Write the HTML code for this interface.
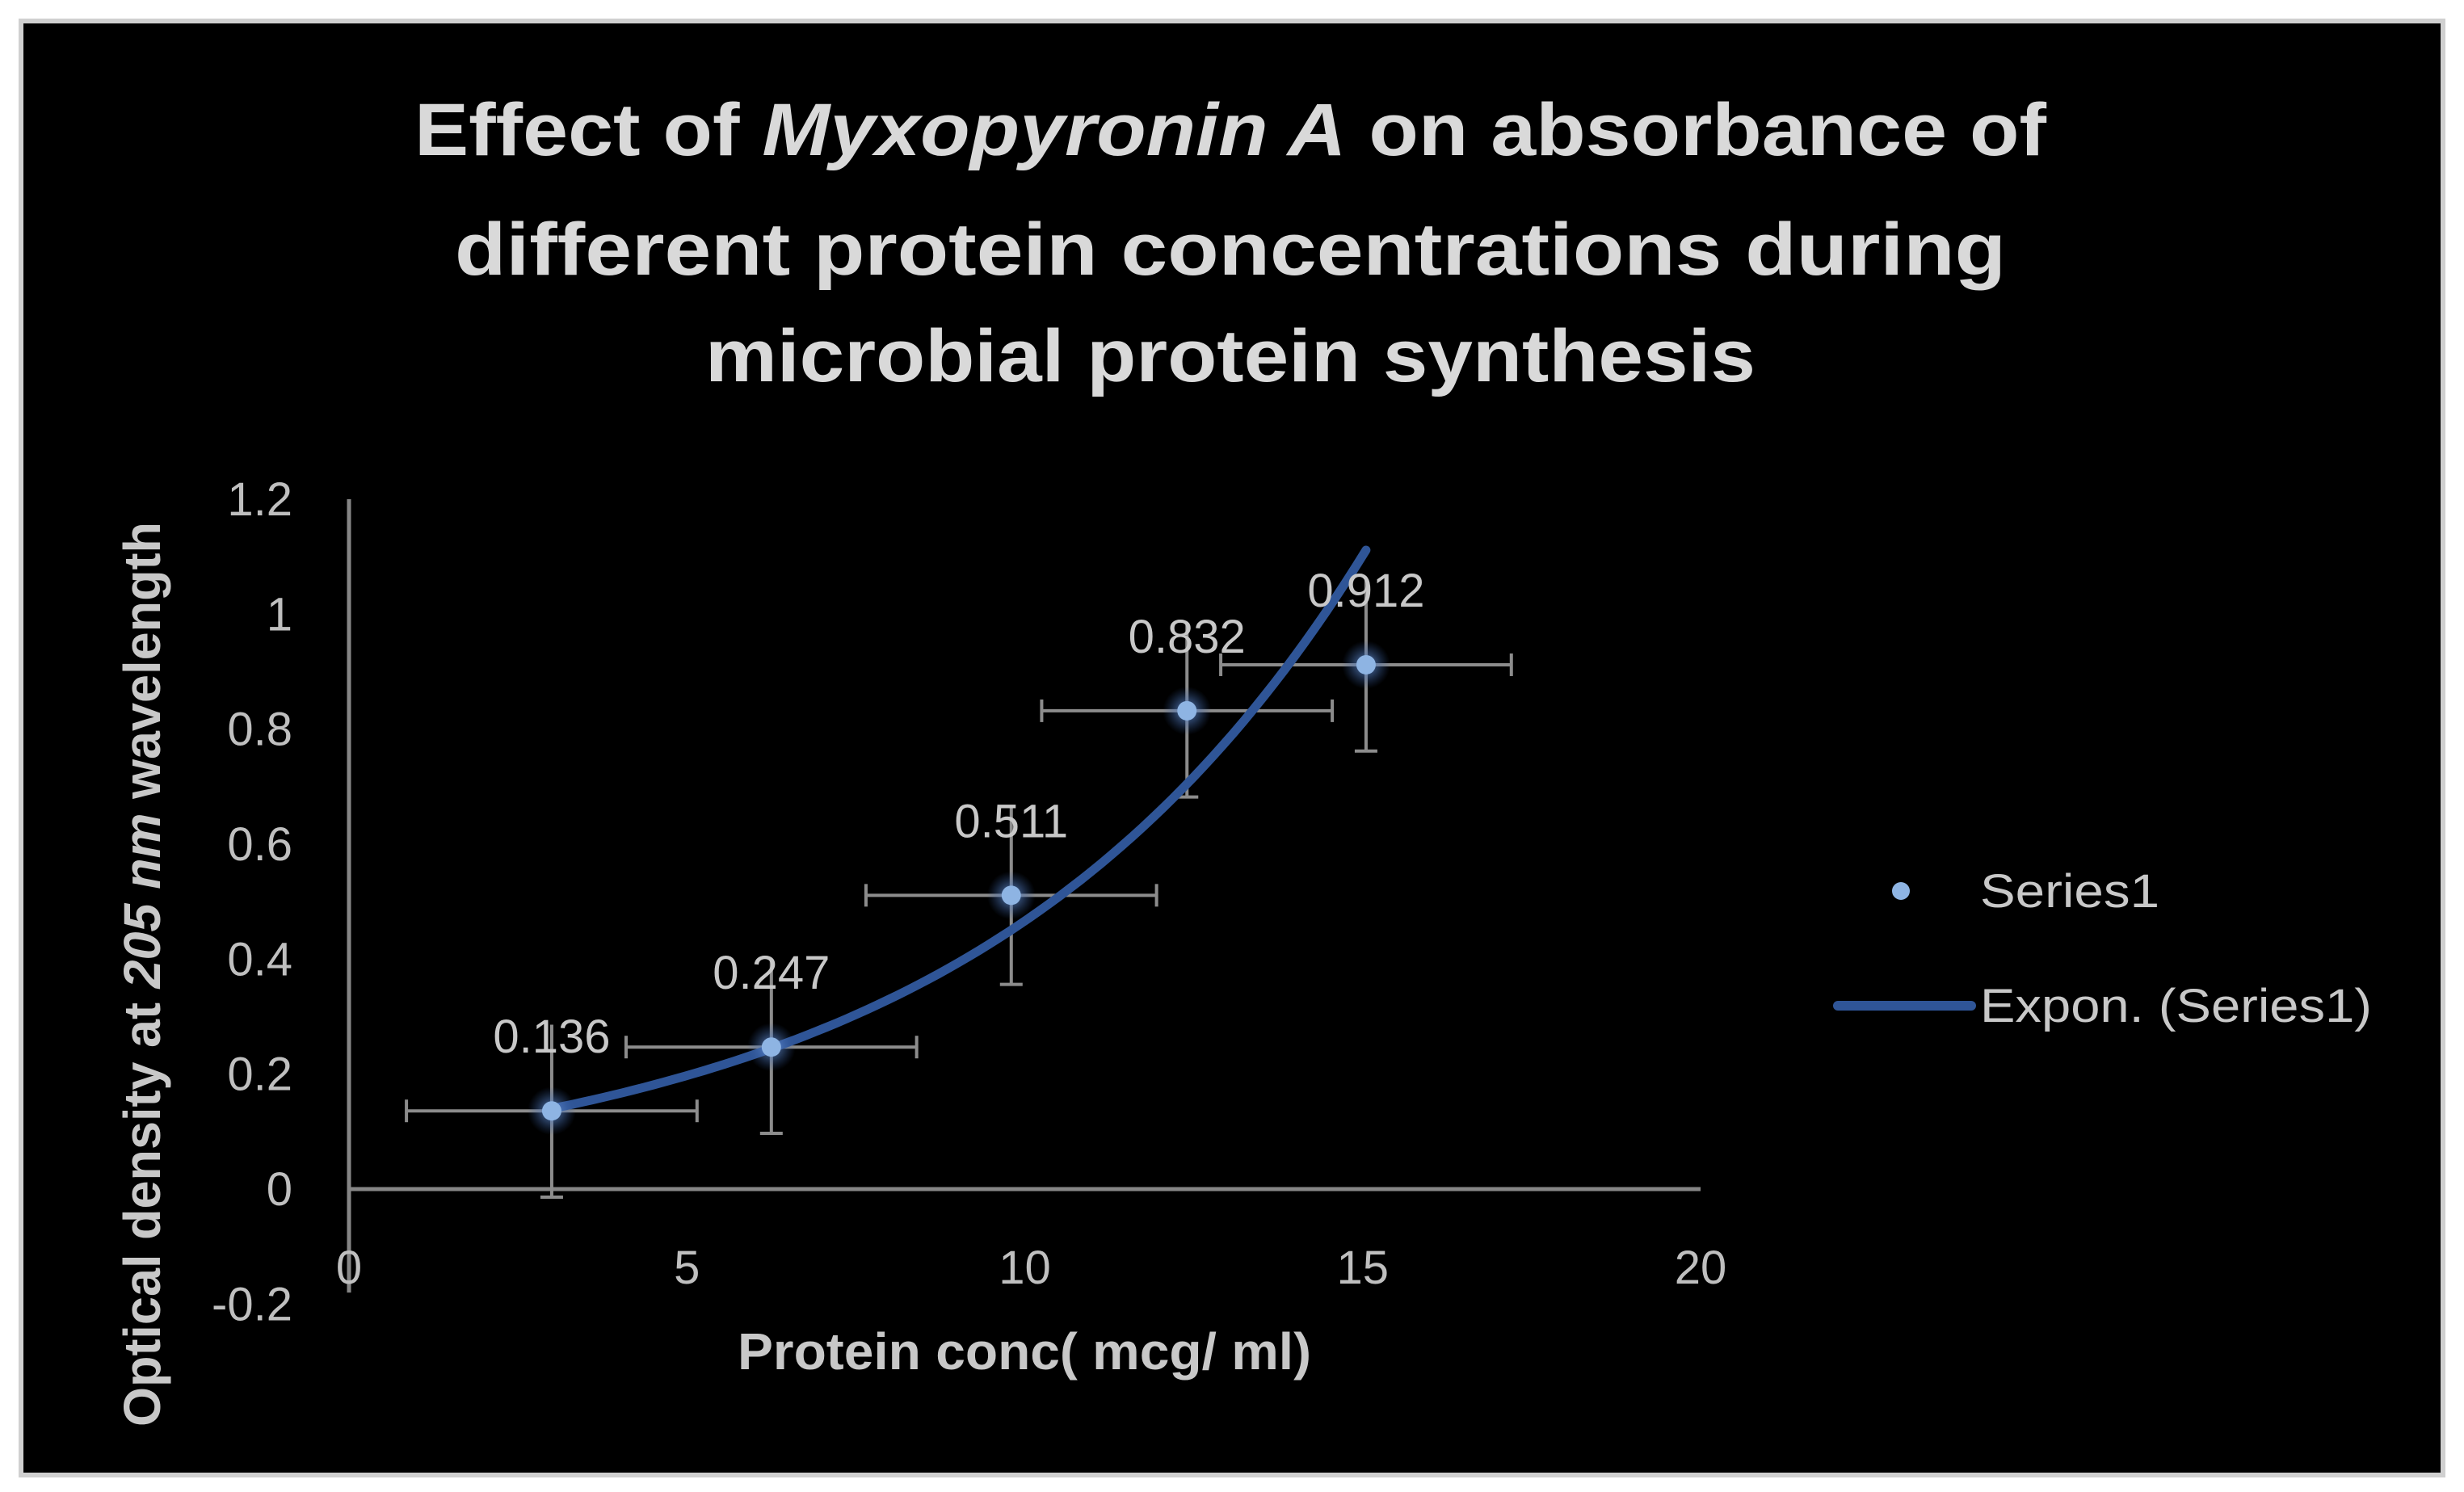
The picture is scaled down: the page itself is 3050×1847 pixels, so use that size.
<!DOCTYPE html>
<html><head><meta charset="utf-8"><style>
html,body{margin:0;padding:0;background:#fff;}
svg{display:block;}
text{font-family:"Liberation Sans",sans-serif;}
</style></head>
<body>
<svg id="chart" width="3050" height="1847" viewBox="0 0 3050 1847" xmlns="http://www.w3.org/2000/svg">
<defs>
<radialGradient id="glow"><stop offset="0" stop-color="#6f9be0" stop-opacity="0.9"/><stop offset="1" stop-color="#2f5597" stop-opacity="0"/></radialGradient>
</defs>
<rect x="0" y="0" width="3050" height="1847" fill="#ffffff"/>
<rect x="26" y="26" width="2998" height="1800" fill="#000" stroke="#d0d0d0" stroke-width="6"/>
<g fill="#d9d9d9" font-weight="bold" font-size="92" text-anchor="middle">
<text x="1523" y="192" textLength="2020" lengthAdjust="spacingAndGlyphs">Effect of <tspan font-style="italic">Myxopyronin A</tspan> on absorbance of</text>
<text x="1523" y="340" textLength="1920" lengthAdjust="spacingAndGlyphs">different  protein concentrations during</text>
<text x="1523" y="472" textLength="1300" lengthAdjust="spacingAndGlyphs">microbial protein synthesis</text>
</g>
<g id="axes"></g>
<g id="marks"></g>
<text x="1268" y="1695" fill="#c8c8c8" font-weight="bold" font-size="64" text-anchor="middle" textLength="710" lengthAdjust="spacingAndGlyphs">Protein conc( mcg/ ml)</text>
<text transform="translate(198,1206) rotate(-90)" fill="#c8c8c8" font-weight="bold" font-size="64" text-anchor="middle" textLength="1120" lengthAdjust="spacingAndGlyphs">Optical density at <tspan font-style="italic">205 nm</tspan> wavelength</text>
<g>
<circle cx="2353" cy="1103" r="11" fill="#8eb4e3"/>
<text x="2451" y="1123" fill="#c8c8c8" font-size="58" textLength="222" lengthAdjust="spacingAndGlyphs">Series1</text>
<line x1="2275" y1="1245" x2="2440" y2="1245" stroke="#2f5597" stroke-width="12" stroke-linecap="round"/>
<text x="2451" y="1265" fill="#c8c8c8" font-size="58" textLength="485" lengthAdjust="spacingAndGlyphs">Expon. (Series1)</text>
</g>
</svg>
<script>
const xValues = [3.0, 6.25, 9.8, 12.4, 15.05];
const yValues = [0.136, 0.247, 0.511, 0.832, 0.912];
const xErr = [2.15, 2.15, 2.15, 2.15, 2.15];
const yErr = [0.15, 0.15, 0.155, 0.15, 0.15];
const dataLabels = ["0.136", "0.247", "0.511", "0.832", "0.912"];
const xTicks = [0, 5, 10, 15, 20];
const yTicks = [-0.2, 0, 0.2, 0.4, 0.6, 0.8, 1, 1.2];
const yTickLabels = ["-0.2", "0", "0.2", "0.4", "0.6", "0.8", "1", "1.2"];
const trendA = 0.0835, trendB = 0.172;

const NS = "http://www.w3.org/2000/svg";
const X0 = 432, X1 = 2105, Y0 = 1472, YTOP = 618;
const sx = v => X0 + (v - 0) / 20 * (X1 - X0);
const sy = v => Y0 - v / 1.2 * (Y0 - YTOP);
function mk(tag, attrs, parent) {
  const e = document.createElementNS(NS, tag);
  for (const k in attrs) e.setAttribute(k, attrs[k]);
  parent.appendChild(e);
  return e;
}
const axes = document.getElementById('axes');
const marks = document.getElementById('marks');
let el = mk('line', {x1: X0, y1: sy(1.2), x2: X0, y2: sy(-0.18), stroke: '#868686', 'stroke-width': 5}, axes);


el = mk('line', {x1: X0, y1: Y0, x2: X1, y2: Y0, stroke: '#868686', 'stroke-width': 5}, axes);


yTicks.forEach((t, i) => {
  const e = mk('text', {x: 362, y: sy(t) + 20, fill: '#bfbfbf', 'font-size': 58, 'text-anchor': 'end'}, axes);
  e.textContent = yTickLabels[i];
  
  
});
xTicks.forEach(t => {
  const e = mk('text', {x: sx(t), y: 1589, fill: '#bfbfbf', 'font-size': 58, 'text-anchor': 'middle'}, axes);
  e.textContent = String(t);
  
  
});
// error bars
xValues.forEach((x, i) => {
  const y = yValues[i];
  const g = mk('g', {stroke: '#8c8c8c', 'stroke-width': 4}, marks);
  
  
  mk('line', {x1: sx(x - xErr[i]), y1: sy(y), x2: sx(x + xErr[i]), y2: sy(y)}, g);
  mk('line', {x1: sx(x - xErr[i]), y1: sy(y) - 14, x2: sx(x - xErr[i]), y2: sy(y) + 14}, g);
  mk('line', {x1: sx(x + xErr[i]), y1: sy(y) - 14, x2: sx(x + xErr[i]), y2: sy(y) + 14}, g);
  mk('line', {x1: sx(x), y1: sy(y + yErr[i]), x2: sx(x), y2: sy(y - yErr[i])}, g);
  mk('line', {x1: sx(x) - 14, y1: sy(y - yErr[i]), x2: sx(x) + 14, y2: sy(y - yErr[i])}, g);
});
// trendline
let d = '';
const xs = xValues[0], xe = xValues[xValues.length - 1];
for (let k = 0; k <= 80; k++) {
  const x = xs + (xe - xs) * k / 80;
  d += (k ? 'L' : 'M') + sx(x).toFixed(1) + ' ' + sy(trendA * Math.exp(trendB * x)).toFixed(1);
}
el = mk('path', {d: d, fill: 'none', stroke: '#2f5597', 'stroke-width': 11, 'stroke-linecap': 'round'}, marks);


// points + labels
xValues.forEach((x, i) => {
  const y = yValues[i];
  let c = mk('circle', {cx: sx(x), cy: sy(y), r: 30, fill: 'url(#glow)'}, marks);
  
  
  c = mk('circle', {cx: sx(x), cy: sy(y), r: 12, fill: '#8eb4e3'}, marks);
  
  
  const t = mk('text', {x: sx(x), y: sy(y) - 72, fill: '#c8c8c8', 'font-size': 58, 'text-anchor': 'middle'}, marks);
  t.textContent = dataLabels[i];
  
  
});
</script>
</body></html>
